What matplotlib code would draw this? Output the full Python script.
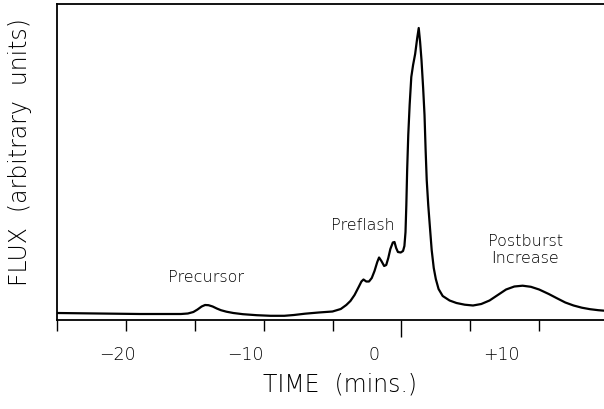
import numpy as np
import matplotlib
matplotlib.use("Agg")
from matplotlib import pyplot as plt

# light curve (time in minutes, flux in arbitrary units)
time = [-25.0, -22.0, -19.0, -16.0, -15.5, -15.1, -14.8, -14.5, -14.25, -14.0,
        -13.7, -13.4, -13.1, -12.7, -12.2, -11.5, -10.5, -9.5, -8.5, -7.8,
        -7.0, -6.0, -5.0, -4.4, -4.0, -3.7, -3.4, -3.1, -2.9, -2.75,
        -2.55, -2.35, -2.15, -1.95, -1.75, -1.62, -1.45, -1.25, -1.1, -0.95,
        -0.8, -0.62, -0.5, -0.38, -0.25, -0.05, 0.12, 0.22, 0.3, 0.36,
        0.42, 0.5, 0.6, 0.72, 0.85, 1.0, 1.15, 1.26, 1.36, 1.46,
        1.58, 1.68, 1.76, 1.84, 1.95, 2.06, 2.2, 2.35, 2.5, 2.7,
        3.0, 3.5, 4.0, 4.6, 5.2, 5.8, 6.4, 7.0, 7.6, 8.2,
        8.8, 9.4, 10.0, 10.7, 11.3, 11.9, 12.5, 13.1, 13.7, 14.3,
        15.0]
flux = [7, 6.5, 6, 6, 6.5, 8, 10.5, 13.5, 15, 14.8,
        13.5, 11.5, 9.8, 8.3, 7, 5.8, 4.8, 4.2, 4.2, 5.0,
        6.3, 7.5, 8.5, 11, 15, 19, 25, 33, 38.5, 40.5,
        38.5, 38.5, 42, 49, 58, 62.5, 59, 54, 55, 62,
        71, 77.5, 78, 72, 68, 67.5, 69, 74, 88, 115,
        150, 185, 215, 243, 255, 266, 282, 292, 278, 260,
        232, 205, 170, 140, 115, 95, 70, 52, 41, 31,
        24, 19.5, 17, 15.3, 14.5, 16, 19.5, 25, 30.5, 33.5,
        34.3, 33.2, 30.5, 26, 21.7, 17.5, 14.5, 12.3, 10.8, 9.8,
        9]

tick_pos = [-25, -20, -15, -10, -5, 0, 5, 10, 15]
label_vals = [-20, -10, 0, 10]
label_text = ["\u221220", "\u221210", "0", "+10"]

plt.rcParams['font.family'] = ['DejaVu Sans']
plt.rcParams['font.weight'] = 'light'
plt.rcParams['axes.labelweight'] = 'light'

fig = plt.figure(figsize=(6.04, 4.09), dpi=100)
ax = fig.add_axes([57 / 604, 89 / 409, 551 / 604, 316 / 409])

ax.plot(time, flux, color='black', lw=1.6, solid_joinstyle='round')
ax.set_xlim(-25, 15)
ax.set_ylim(0, 316)

for s in ax.spines.values():
    s.set_linewidth(1.3)
ax.spines['right'].set_visible(False)

ax.set_yticks([])
ax.set_xticks(tick_pos)
ax.set_xticklabels([])
ax.tick_params(axis='x', direction='out', length=8, width=1.0)
ax.get_xticklines()[10].set_markersize(12)

# the printed labels sit on a slightly different scale than the tick marks
px_per_min = 13.77
def fwd(t):
    return (t * px_per_min + 27.6) / 12.8
def inv(u):
    return (u * 12.8 - 27.6) / px_per_min

sec = ax.secondary_xaxis('bottom', functions=(fwd, inv))
sec.spines['bottom'].set_visible(False)
sec.set_xticks(label_vals)
sec.set_xticklabels(label_text)
sec.tick_params(length=0, pad=19, labelsize=12.5)

ax.set_xlabel("TIME  (mins.)", fontsize=17)
ax.xaxis.set_label_coords(0.514, -0.165)
ax.set_ylabel("FLUX  (arbitrary  units)", fontsize=17)
ax.yaxis.set_label_coords(-0.045, 0.53)

ax.text(-14.2, 43, "Precursor", ha='center', va='center', fontsize=11.5)
ax.text(-2.8, 95, "Preflash", ha='center', va='center', fontsize=11.5)
ax.text(9.0, 70, "Postburst\nIncrease", ha='center', va='center', fontsize=11.5,
        linespacing=1.1)

fig.savefig("out.png", dpi=100)
